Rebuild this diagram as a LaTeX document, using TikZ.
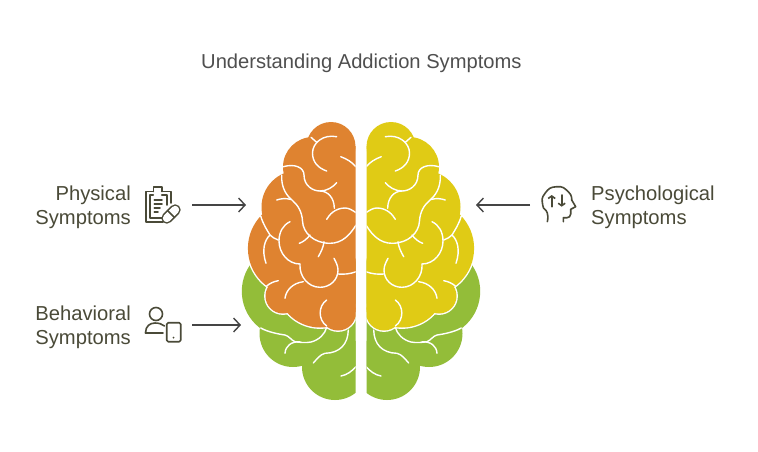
\documentclass[tikz,border=0pt]{standalone}
\usepackage{fontspec}
\setmainfont{Liberation Sans}
\usetikzlibrary{arrows.meta}
\definecolor{cOrange}{HTML}{DF8330}
\definecolor{cYellow}{HTML}{E0CB15}
\definecolor{cGreen}{HTML}{93BD39}
\definecolor{cText}{HTML}{4A4A38}
\definecolor{cTitle}{HTML}{4F4F4F}
\definecolor{cArrow}{HTML}{454545}
\definecolor{cIcon}{HTML}{4A4A38}
\tikzset{
  fold/.style={white,line width=1.4pt,line cap=round,line join=round},
  halo/.style={draw=white,line width=2.8pt},
  conn/.style={cArrow,line width=1.4pt,-{Straight Barb[length=6.5pt,width=14pt,line width=1.4pt]}},
  ic/.style={cIcon,line width=1.6pt,line cap=round,line join=round},
  lbl/.style={text=cText,font=\fontsize{20.2}{24}\selectfont,inner sep=0pt},
  ttl/.style={text=cTitle,font=\fontsize{20.15}{24}\selectfont,inner sep=0pt},
  sm/.style={smooth,tension=1}
}
\newcommand{\brainhalf}[1]{%
  \begin{scope}
  \clip (100,100) rectangle (355.5,420);
  \fill[cGreen] (288,291.3) circle (46.2);
  \fill[cGreen] (293,333.5) circle (33.5);
  \fill[cGreen] (335,367) circle (33);
  \fill[cGreen] (260,300) -- (356,260) -- (356,370) -- (320,368) -- (280,340) -- cycle;
  \draw[fold] (260.7,328) .. controls (268,332) and (278,334) .. (285,335) .. controls (289,336) and (291,340) .. (295,341.7);
  \draw[fold] (295,341.7) .. controls (300,342.5) and (306,343) .. (311,342) .. controls (319,340) and (325,334) .. (326.7,327.3);
  \draw[fold] (285,353.3) .. controls (285.5,346) and (291,341.5) .. (300,341.7);
  \draw[fold] (313.3,363) .. controls (317,359) and (320,354.5) .. (325,353.3) .. controls (340,353) and (348,344) .. (348.3,330);
  \draw[fold] (341,376) .. controls (347,375) and (352,371) .. (356,366.7);
  \draw[halo] (331,146.5) circle (24.5) (313,167) circle (30) (298,207) circle (36.5) (295,248.3) circle (47.1)
     (283,296) circle (17.5) (320,284) circle (43.5) (338,312.5) circle (18);
  \foreach \cx/\cy/\rr in {331/146.5/24.5,313/167/30,298/207/36.5,295/248.3/47.1,283/296/17.5,320/284/43.5,338/312.5/18}
    {\fill[#1] (\cx,\cy) circle (\rr);}
  \fill[#1] (356,146.5) -- (331,135) -- (300,160) -- (280,200) -- (270,240) -- (280,290) -- (320,320) -- (356,312) -- cycle;
  \draw[fold] (336.7,136.7) .. controls (323,134) and (312.5,143) .. (312.5,153) .. controls (312.5,162) and (318,168) .. (326.7,171);
  \draw[fold] (311,137.3) -- (316.7,142.3);
  \draw[fold] (283.3,166.7) .. controls (294,163.5) and (304,167) .. (304,175) .. controls (304,186) and (313,191) .. (320,191) .. controls (327,191) and (333,187) .. (336.7,182.7);
  \draw[fold] (320,191) .. controls (328,191) and (334.3,198) .. (334.3,208.3);
  \draw[fold] (326.7,219.3) .. controls (329,215) and (335,208) .. (345,208) .. controls (349,208) and (352,210) .. (356,212.7);
  \draw[fold] (340.7,156.7) .. controls (347,159) and (352,162) .. (356,167);
  \draw[fold] (281.7,175) .. controls (281,188) and (287,196) .. (292,200) .. controls (298,205) and (302,212) .. (302.5,221) .. controls (303,233) and (314,243.3) .. (330,243.3) .. controls (342,243.3) and (350,235) .. (356,225);
  \draw[fold] (276.7,200) .. controls (281,198.5) and (286,198) .. (291,199.5);
  \draw[fold] (260.7,216) .. controls (263,224) and (267,230) .. (270,235) .. controls (272,237) and (275,239) .. (278.3,240);
  \draw[fold] (270,235) .. controls (264.5,240) and (261.5,250) .. (266,263.3);
  \draw[fold] (290,221.7) .. controls (283,225) and (279,232) .. (279,241) .. controls (279,253) and (288,264) .. (300,264);
  \draw[fold] (300,264) .. controls (299,276) and (308,287.3) .. (320,287.3) .. controls (330,287.3) and (338,280) .. (338,270) .. controls (338,266) and (336,262) .. (334,258.3);
  \draw[fold] (338,274) .. controls (344,274.5) and (350,274) .. (356,271.7);
  \draw[fold] (310,235) .. controls (307,239) and (303,242) .. (299.3,243.3);
  \draw[fold] (324,241.7) .. controls (323.5,247) and (321,252) .. (318.3,256.7);
  \draw[fold] (278.3,280.7) .. controls (273,281.5) and (269,284) .. (266.7,286);
  \draw[fold] (303.3,281.7) .. controls (293,283) and (286,290) .. (285,298.3);
  \draw[fold] (326.7,300) .. controls (318,306) and (318,320) .. (326.7,326);
  \end{scope}
}
\begin{document}
\begin{tikzpicture}[x=1pt,y=-1pt]
\useasboundingbox (0,0) rectangle (758,451);
\fill[white] (0,0) rectangle (758,451);
\brainhalf{cOrange}
\begin{scope}[xshift=722pt,xscale=-1]
\brainhalf{cYellow}
\end{scope}
\node[ttl,anchor=west] (title) at (201,63) {Understanding Addiction Symptoms};
\node[lbl,anchor=east,align=right] (phys) at (131,207) {Physical\\Symptoms};
\node[lbl,anchor=east,align=right] (behav) at (131,327) {Behavioral\\Symptoms};
\node[lbl,anchor=west,align=left] (psych) at (591,207) {Psychological\\Symptoms};
% icons
\draw[ic] (153.3,191.5) -- (145.7,191.5) -- (145.7,221.7) -- (163,221.7);
\draw[ic] (171,203) -- (171,191.5) -- (161.7,191.5);
\draw[ic] (153.3,191.5) -- (153.3,187) -- (161.7,187) -- (161.7,191.5);
\draw[ic] (153.3,195) -- (150,195) -- (150,217.7) -- (162,217.7);
\draw[ic] (161.7,195) -- (166.7,195) -- (166.7,205);
\draw[ic] (154.3,200) -- (162,200) (154.3,204) -- (162,204) (154.3,208) -- (160,208) (154.3,212) -- (158,212);
\draw[cIcon,line width=11pt,line cap=round] (166.8,218.2) -- (175.2,209.8);
\draw[white,line width=8pt,line cap=round] (166.8,218.2) -- (175.2,209.8);
\draw[ic] (167.5,210.5) -- (174.5,217.5);
\draw[ic] (156,314) circle (6.5);
\draw[ic] (145.5,333) .. controls (145.5,326) and (150,323) .. (155,323) .. controls (159,323) and (162,324) .. (164.5,326);
\draw[ic] (145.5,333) -- (163,333);
\draw[ic,rounded corners=1.5pt] (166.7,322.7) rectangle (180.7,341.7);
\fill[cIcon] (173.5,337.7) circle (1pt);
\draw[ic] plot[sm] coordinates {(547.3,221.7) (547.3,213) (542.7,205) (545,193.3) (556.7,186.7) (568.3,191.7) (571.7,200)} -- (575.7,206.7) -- (570.7,209.3) -- (570.7,214) .. controls (570.5,216.5) and (569,217.7) .. (567,217.7) -- (563.3,217.7) -- (563.3,221.7);
\draw[ic,-{Straight Barb[length=2.5pt,width=7pt,line width=1.6pt]}] (551.7,206.7) -- (551.7,195);
\draw[ic,-{Straight Barb[length=2.5pt,width=7pt,line width=1.6pt]}] (561.7,195) -- (561.7,206.7);
% connectors
\coordinate (c1) at (192,205); \coordinate (t1) at (246,205);
\coordinate (c2) at (192,325); \coordinate (t2) at (241,325);
\coordinate (c3) at (530,205); \coordinate (t3) at (476,205);
\draw[conn] (c1) -- (t1);
\draw[conn] (c2) -- (t2);
\draw[conn] (c3) -- (t3);
\end{tikzpicture}
\end{document}
